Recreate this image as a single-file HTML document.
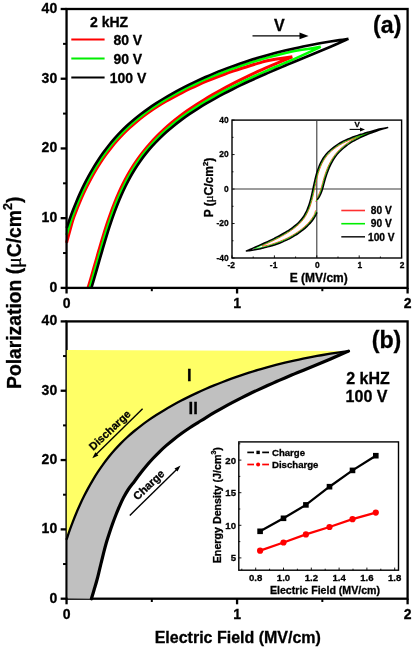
<!DOCTYPE html>
<html><head><meta charset="utf-8"><title>P-E loops</title>
<style>html,body{margin:0;padding:0;background:#fff;}svg{display:block;will-change:transform;}text{font-family:"Liberation Sans",sans-serif;}</style>
</head><body>
<svg width="414" height="648" viewBox="0 0 414 648">
<rect width="414" height="648" fill="#fff"/>
<path d="M66.55,242.80 C67.58,239.06 71.19,225.52 72.74,220.34 C74.30,215.16 74.80,214.58 75.89,211.72 C76.98,208.86 78.11,206.00 79.29,203.17 C80.47,200.33 81.70,197.51 82.97,194.72 C84.24,191.92 85.55,189.14 86.92,186.40 C88.28,183.65 89.69,180.93 91.15,178.24 C92.61,175.55 94.11,172.89 95.67,170.26 C97.23,167.64 98.83,165.05 100.49,162.51 C102.15,159.96 103.86,157.46 105.62,155.00 C107.39,152.54 109.20,150.12 111.07,147.76 C112.94,145.40 114.86,143.08 116.83,140.83 C118.81,138.57 120.84,136.37 122.93,134.22 C125.02,132.08 127.17,129.99 129.37,127.96 C131.57,125.92 133.83,123.94 136.14,122.01 C138.44,120.08 140.80,118.21 143.20,116.37 C145.60,114.54 148.03,112.74 150.52,111.02 C153.02,109.30 155.57,107.65 158.15,106.03 C160.73,104.41 163.35,102.85 165.99,101.31 C168.63,99.78 171.31,98.29 174.00,96.83 C176.69,95.38 179.41,93.96 182.15,92.57 C184.88,91.18 187.64,89.83 190.41,88.51 C193.18,87.19 195.97,85.90 198.77,84.65 C201.57,83.40 204.39,82.18 207.22,80.99 C210.06,79.80 212.91,78.65 215.77,77.52 C218.63,76.40 221.50,75.30 224.39,74.24 C227.27,73.18 230.17,72.15 233.08,71.14 C235.99,70.14 238.91,69.17 241.84,68.23 C244.77,67.29 247.71,66.38 250.66,65.49 C253.60,64.60 256.55,63.73 259.51,62.90 C262.47,62.06 262.93,61.48 268.42,60.46 C273.90,59.44 288.40,57.41 292.40,56.80 M88.00,288.00 C88.50,286.30 90.06,281.05 91.01,277.80 C91.96,274.54 92.82,271.58 93.71,268.46 C94.61,265.33 95.50,262.19 96.40,259.05 C97.30,255.91 98.19,252.75 99.11,249.60 C100.03,246.45 100.95,243.29 101.89,240.14 C102.84,236.98 103.80,233.83 104.79,230.69 C105.79,227.55 106.80,224.41 107.85,221.29 C108.91,218.17 109.99,215.05 111.12,211.96 C112.25,208.87 113.41,205.79 114.63,202.74 C115.85,199.69 117.11,196.66 118.44,193.66 C119.77,190.66 121.14,187.68 122.59,184.74 C124.04,181.80 125.54,178.89 127.13,176.02 C128.71,173.15 130.36,170.31 132.10,167.53 C133.83,164.74 135.64,161.99 137.55,159.29 C139.45,156.59 141.44,153.95 143.51,151.35 C145.58,148.76 147.74,146.21 149.95,143.72 C152.17,141.22 154.44,138.76 156.79,136.37 C159.13,133.98 161.55,131.65 164.02,129.38 C166.49,127.11 169.02,124.89 171.59,122.74 C174.16,120.59 176.79,118.51 179.44,116.48 C182.10,114.46 184.80,112.49 187.52,110.58 C190.25,108.66 193.01,106.81 195.79,105.00 C198.57,103.18 201.38,101.42 204.20,99.70 C207.03,97.97 209.87,96.29 212.72,94.64 C215.58,93.00 218.45,91.39 221.33,89.81 C224.21,88.23 227.11,86.68 230.01,85.16 C232.92,83.64 235.84,82.15 238.77,80.69 C241.70,79.22 244.63,77.78 247.58,76.36 C250.53,74.95 253.49,73.56 256.45,72.19 C259.42,70.82 259.38,70.70 265.37,68.14 C271.36,65.57 287.90,58.69 292.40,56.80" fill="none" stroke="#ff0000" stroke-width="3.0" stroke-linejoin="round"/>
<path d="M66.55,235.00 C67.33,232.47 69.92,223.79 71.23,219.81 C72.54,215.84 73.30,214.02 74.39,211.15 C75.49,208.27 76.63,205.40 77.82,202.55 C79.00,199.70 80.23,196.87 81.51,194.06 C82.79,191.24 84.11,188.45 85.48,185.69 C86.85,182.92 88.27,180.18 89.74,177.47 C91.21,174.77 92.73,172.09 94.30,169.45 C95.86,166.81 97.48,164.20 99.15,161.63 C100.82,159.07 102.55,156.54 104.32,154.07 C106.10,151.59 107.93,149.15 109.81,146.77 C111.70,144.39 113.64,142.05 115.63,139.77 C117.63,137.50 119.68,135.27 121.79,133.10 C123.90,130.94 126.07,128.83 128.29,126.78 C130.51,124.73 132.79,122.73 135.11,120.79 C137.43,118.84 139.81,116.95 142.23,115.10 C144.64,113.26 147.10,111.46 149.61,109.71 C152.11,107.96 154.66,106.28 157.24,104.62 C159.82,102.97 162.44,101.37 165.08,99.80 C167.72,98.23 170.40,96.70 173.09,95.21 C175.78,93.72 178.50,92.26 181.23,90.84 C183.97,89.42 186.72,88.03 189.49,86.67 C192.26,85.31 195.05,83.99 197.86,82.70 C200.66,81.41 203.48,80.15 206.32,78.93 C209.15,77.70 212.00,76.51 214.87,75.35 C217.73,74.18 220.61,73.05 223.50,71.95 C226.39,70.85 229.29,69.78 232.20,68.74 C235.12,67.70 238.04,66.69 240.98,65.71 C243.91,64.73 246.86,63.78 249.81,62.85 C252.77,61.93 255.73,61.03 258.70,60.16 C261.66,59.28 264.64,58.44 267.62,57.62 C270.60,56.80 273.59,56.01 276.59,55.24 C279.58,54.48 282.58,53.74 285.59,53.03 C288.59,52.32 288.74,51.99 294.61,50.97 C300.48,49.95 316.43,47.58 320.80,46.90 M89.70,288.00 C90.17,286.37 91.62,281.43 92.55,278.25 C93.47,275.06 94.35,272.03 95.25,268.90 C96.15,265.77 97.04,262.63 97.94,259.49 C98.84,256.35 99.73,253.19 100.65,250.05 C101.56,246.90 102.48,243.74 103.43,240.60 C104.37,237.45 105.33,234.30 106.32,231.17 C107.31,228.04 108.32,224.91 109.37,221.80 C110.42,218.69 111.49,215.59 112.62,212.51 C113.74,209.44 114.90,206.37 116.12,203.34 C117.33,200.30 118.58,197.29 119.90,194.31 C121.22,191.33 122.59,188.37 124.03,185.45 C125.46,182.53 126.96,179.64 128.53,176.79 C130.10,173.95 131.73,171.13 133.46,168.37 C135.18,165.61 136.97,162.88 138.85,160.21 C140.74,157.54 142.71,154.92 144.76,152.35 C146.81,149.79 148.96,147.27 151.16,144.81 C153.37,142.35 155.65,139.93 157.99,137.58 C160.34,135.24 162.75,132.94 165.22,130.71 C167.68,128.48 170.21,126.31 172.78,124.20 C175.34,122.10 177.97,120.06 180.62,118.07 C183.27,116.08 185.97,114.16 188.69,112.29 C191.41,110.42 194.17,108.60 196.95,106.83 C199.72,105.05 202.53,103.33 205.35,101.65 C208.18,99.96 211.02,98.32 213.87,96.71 C216.73,95.10 219.60,93.53 222.48,91.99 C225.36,90.44 228.26,88.94 231.17,87.46 C234.07,85.97 236.99,84.52 239.92,83.09 C242.85,81.67 245.79,80.26 248.74,78.88 C251.69,77.50 254.65,76.15 257.62,74.81 C260.59,73.47 263.57,72.16 266.55,70.85 C269.53,69.54 272.52,68.26 275.51,66.97 C278.50,65.69 281.49,64.42 284.49,63.16 C287.49,61.89 287.44,62.09 293.49,59.38 C299.54,56.67 316.25,48.98 320.80,46.90" fill="none" stroke="#00ff00" stroke-width="2.6" stroke-linejoin="round"/>
<path d="M66.70,228.00 C67.19,226.54 68.61,222.16 69.63,219.25 C70.64,216.34 71.70,213.43 72.81,210.54 C73.91,207.65 75.06,204.76 76.25,201.90 C77.44,199.03 78.68,196.18 79.96,193.35 C81.25,190.52 82.58,187.71 83.96,184.93 C85.34,182.15 86.77,179.39 88.25,176.66 C89.73,173.94 91.25,171.24 92.83,168.58 C94.41,165.92 96.04,163.29 97.73,160.71 C99.41,158.12 101.15,155.57 102.94,153.07 C104.73,150.58 106.58,148.12 108.48,145.71 C110.38,143.31 112.34,140.95 114.35,138.65 C116.37,136.35 118.44,134.11 120.57,131.92 C122.70,129.73 124.89,127.61 127.13,125.53 C129.38,123.46 131.68,121.45 134.02,119.48 C136.36,117.52 138.76,115.61 141.19,113.75 C143.63,111.89 146.11,110.08 148.63,108.32 C151.15,106.55 153.70,104.84 156.29,103.16 C158.88,101.48 161.50,99.85 164.15,98.26 C166.80,96.67 169.48,95.12 172.18,93.60 C174.88,92.08 177.60,90.60 180.34,89.15 C183.08,87.70 185.84,86.29 188.62,84.91 C191.39,83.53 194.19,82.18 197.00,80.87 C199.81,79.55 202.64,78.27 205.48,77.02 C208.32,75.77 211.18,74.56 214.05,73.37 C216.92,72.18 219.81,71.03 222.70,69.90 C225.60,68.78 228.51,67.68 231.43,66.62 C234.35,65.55 237.29,64.52 240.23,63.51 C243.17,62.51 246.13,61.53 249.09,60.59 C252.05,59.64 255.02,58.72 258.00,57.83 C260.98,56.94 263.97,56.08 266.96,55.25 C269.95,54.41 272.95,53.60 275.96,52.82 C278.97,52.04 281.98,51.29 284.99,50.56 C288.01,49.83 291.03,49.13 294.05,48.46 C297.07,47.78 300.09,47.13 303.12,46.50 C306.15,45.88 309.18,45.28 312.21,44.70 C315.23,44.12 318.26,43.57 321.29,43.04 C324.32,42.51 327.35,42.01 330.37,41.52 C333.40,41.04 336.43,40.58 339.45,40.14 C342.47,39.70 346.99,39.10 348.50,38.90 M91.40,288.00 C91.87,286.45 93.26,281.83 94.18,278.73 C95.09,275.62 95.99,272.50 96.88,269.37 C97.78,266.24 98.67,263.10 99.57,259.96 C100.47,256.82 101.37,253.67 102.28,250.52 C103.19,247.37 104.11,244.22 105.05,241.09 C106.00,237.95 106.95,234.81 107.94,231.68 C108.93,228.56 109.93,225.44 110.98,222.34 C112.02,219.25 113.10,216.16 114.22,213.10 C115.33,210.03 116.49,206.99 117.69,203.97 C118.90,200.95 120.15,197.96 121.46,194.99 C122.77,192.03 124.12,189.10 125.55,186.20 C126.98,183.30 128.46,180.44 130.02,177.61 C131.57,174.79 133.19,172.01 134.90,169.27 C136.60,166.53 138.38,163.84 140.24,161.19 C142.11,158.55 144.05,155.95 146.09,153.42 C148.12,150.88 150.25,148.39 152.44,145.96 C154.63,143.53 156.90,141.15 159.24,138.84 C161.57,136.52 163.97,134.26 166.43,132.06 C168.88,129.86 171.40,127.73 173.95,125.65 C176.51,123.58 179.12,121.57 181.76,119.61 C184.40,117.66 187.08,115.77 189.80,113.92 C192.51,112.08 195.26,110.29 198.03,108.54 C200.80,106.80 203.60,105.10 206.41,103.44 C209.23,101.78 212.07,100.17 214.92,98.58 C217.76,97.00 220.63,95.45 223.51,93.94 C226.39,92.42 229.28,90.94 232.18,89.48 C235.09,88.02 238.00,86.60 240.93,85.19 C243.86,83.78 246.80,82.41 249.74,81.05 C252.69,79.69 255.65,78.35 258.61,77.03 C261.58,75.71 264.55,74.40 267.53,73.11 C270.51,71.82 273.49,70.55 276.48,69.28 C279.47,68.01 282.47,66.75 285.47,65.50 C288.47,64.25 291.47,63.01 294.48,61.76 C297.48,60.52 300.49,59.28 303.50,58.04 C306.51,56.80 309.52,55.56 312.52,54.31 C315.53,53.06 318.54,51.81 321.55,50.55 C324.55,49.29 327.55,48.03 330.55,46.75 C333.55,45.47 336.55,44.18 339.54,42.87 C342.53,41.56 347.01,39.56 348.50,38.90" fill="none" stroke="#000" stroke-width="2.6" stroke-linejoin="miter"/>
<rect x="66.55" y="9.00" width="341.05" height="278.90" fill="none" stroke="#000" stroke-width="2.3"/>
<line x1="60.65" y1="287.90" x2="66.55" y2="287.90" stroke="#000" stroke-width="2.3"/>
<line x1="63.05" y1="253.04" x2="66.55" y2="253.04" stroke="#000" stroke-width="2.0"/>
<line x1="60.65" y1="218.17" x2="66.55" y2="218.17" stroke="#000" stroke-width="2.3"/>
<line x1="63.05" y1="183.31" x2="66.55" y2="183.31" stroke="#000" stroke-width="2.0"/>
<line x1="60.65" y1="148.45" x2="66.55" y2="148.45" stroke="#000" stroke-width="2.3"/>
<line x1="63.05" y1="113.59" x2="66.55" y2="113.59" stroke="#000" stroke-width="2.0"/>
<line x1="60.65" y1="78.72" x2="66.55" y2="78.72" stroke="#000" stroke-width="2.3"/>
<line x1="63.05" y1="43.86" x2="66.55" y2="43.86" stroke="#000" stroke-width="2.0"/>
<line x1="60.65" y1="9.00" x2="66.55" y2="9.00" stroke="#000" stroke-width="2.3"/>
<line x1="66.55" y1="287.90" x2="66.55" y2="293.50" stroke="#000" stroke-width="2.3"/>
<line x1="151.81" y1="287.90" x2="151.81" y2="291.20" stroke="#000" stroke-width="2.0"/>
<line x1="237.07" y1="287.90" x2="237.07" y2="293.50" stroke="#000" stroke-width="2.3"/>
<line x1="322.34" y1="287.90" x2="322.34" y2="291.20" stroke="#000" stroke-width="2.0"/>
<line x1="407.60" y1="287.90" x2="407.60" y2="293.50" stroke="#000" stroke-width="2.3"/>
<text x="57.2" y="291.70" font-size="14" text-anchor="end" font-family="Liberation Sans, sans-serif" font-weight="bold" stroke="#000" stroke-width="0.3">0</text>
<text x="57.2" y="221.97" font-size="14" text-anchor="end" font-family="Liberation Sans, sans-serif" font-weight="bold" stroke="#000" stroke-width="0.3">10</text>
<text x="57.2" y="152.25" font-size="14" text-anchor="end" font-family="Liberation Sans, sans-serif" font-weight="bold" stroke="#000" stroke-width="0.3">20</text>
<text x="57.2" y="82.52" font-size="14" text-anchor="end" font-family="Liberation Sans, sans-serif" font-weight="bold" stroke="#000" stroke-width="0.3">30</text>
<text x="57.2" y="12.80" font-size="14" text-anchor="end" font-family="Liberation Sans, sans-serif" font-weight="bold" stroke="#000" stroke-width="0.3">40</text>
<text x="66.55" y="308.20" font-size="14" text-anchor="middle" font-family="Liberation Sans, sans-serif" font-weight="bold" stroke="#000" stroke-width="0.3">0</text>
<text x="237.07" y="308.20" font-size="14" text-anchor="middle" font-family="Liberation Sans, sans-serif" font-weight="bold" stroke="#000" stroke-width="0.3">1</text>
<text x="407.60" y="308.20" font-size="14" text-anchor="middle" font-family="Liberation Sans, sans-serif" font-weight="bold" stroke="#000" stroke-width="0.3">2</text>
<rect x="66.55" y="321.40" width="341.05" height="277.30" fill="none" stroke="#000" stroke-width="2.3"/>
<line x1="60.65" y1="598.70" x2="66.55" y2="598.70" stroke="#000" stroke-width="2.3"/>
<line x1="63.05" y1="564.04" x2="66.55" y2="564.04" stroke="#000" stroke-width="2.0"/>
<line x1="60.65" y1="529.38" x2="66.55" y2="529.38" stroke="#000" stroke-width="2.3"/>
<line x1="63.05" y1="494.71" x2="66.55" y2="494.71" stroke="#000" stroke-width="2.0"/>
<line x1="60.65" y1="460.05" x2="66.55" y2="460.05" stroke="#000" stroke-width="2.3"/>
<line x1="63.05" y1="425.39" x2="66.55" y2="425.39" stroke="#000" stroke-width="2.0"/>
<line x1="60.65" y1="390.73" x2="66.55" y2="390.73" stroke="#000" stroke-width="2.3"/>
<line x1="63.05" y1="356.06" x2="66.55" y2="356.06" stroke="#000" stroke-width="2.0"/>
<line x1="60.65" y1="321.40" x2="66.55" y2="321.40" stroke="#000" stroke-width="2.3"/>
<line x1="66.55" y1="598.70" x2="66.55" y2="604.30" stroke="#000" stroke-width="2.3"/>
<line x1="151.81" y1="598.70" x2="151.81" y2="602.00" stroke="#000" stroke-width="2.0"/>
<line x1="237.07" y1="598.70" x2="237.07" y2="604.30" stroke="#000" stroke-width="2.3"/>
<line x1="322.34" y1="598.70" x2="322.34" y2="602.00" stroke="#000" stroke-width="2.0"/>
<line x1="407.60" y1="598.70" x2="407.60" y2="604.30" stroke="#000" stroke-width="2.3"/>
<text x="57.2" y="602.50" font-size="14" text-anchor="end" font-family="Liberation Sans, sans-serif" font-weight="bold" stroke="#000" stroke-width="0.3">0</text>
<text x="57.2" y="533.17" font-size="14" text-anchor="end" font-family="Liberation Sans, sans-serif" font-weight="bold" stroke="#000" stroke-width="0.3">10</text>
<text x="57.2" y="463.85" font-size="14" text-anchor="end" font-family="Liberation Sans, sans-serif" font-weight="bold" stroke="#000" stroke-width="0.3">20</text>
<text x="57.2" y="394.53" font-size="14" text-anchor="end" font-family="Liberation Sans, sans-serif" font-weight="bold" stroke="#000" stroke-width="0.3">30</text>
<text x="57.2" y="325.20" font-size="14" text-anchor="end" font-family="Liberation Sans, sans-serif" font-weight="bold" stroke="#000" stroke-width="0.3">40</text>
<text x="66.55" y="619.00" font-size="14" text-anchor="middle" font-family="Liberation Sans, sans-serif" font-weight="bold" stroke="#000" stroke-width="0.3">0</text>
<text x="237.07" y="619.00" font-size="14" text-anchor="middle" font-family="Liberation Sans, sans-serif" font-weight="bold" stroke="#000" stroke-width="0.3">1</text>
<text x="407.60" y="619.00" font-size="14" text-anchor="middle" font-family="Liberation Sans, sans-serif" font-weight="bold" stroke="#000" stroke-width="0.3">2</text>
<path d="M66.70,539.14 C67.19,537.70 68.61,533.34 69.63,530.45 C70.64,527.55 71.70,524.66 72.81,521.79 C73.91,518.91 75.06,516.04 76.25,513.19 C77.44,510.34 78.68,507.51 79.96,504.69 C81.25,501.88 82.58,499.09 83.96,496.32 C85.34,493.56 86.77,490.81 88.25,488.10 C89.73,485.39 91.25,482.71 92.83,480.06 C94.41,477.42 96.04,474.80 97.73,472.24 C99.41,469.67 101.15,467.13 102.94,464.65 C104.73,462.16 106.58,459.72 108.48,457.33 C110.38,454.94 112.34,452.59 114.35,450.31 C116.37,448.02 118.44,445.79 120.57,443.61 C122.70,441.44 124.89,439.33 127.13,437.26 C129.38,435.20 131.68,433.20 134.02,431.25 C136.36,429.30 138.76,427.40 141.19,425.55 C143.63,423.70 146.11,421.90 148.63,420.15 C151.15,418.39 153.70,416.69 156.29,415.02 C158.88,413.35 161.50,411.73 164.15,410.15 C166.80,408.56 169.48,407.02 172.18,405.51 C174.88,404.00 177.60,402.53 180.34,401.09 C183.08,399.65 185.84,398.25 188.62,396.88 C191.39,395.50 194.19,394.16 197.00,392.86 C199.81,391.55 202.64,390.28 205.48,389.03 C208.32,387.79 211.18,386.58 214.05,385.40 C216.92,384.22 219.81,383.07 222.70,381.95 C225.60,380.83 228.51,379.75 231.43,378.69 C234.35,377.63 237.29,376.60 240.23,375.60 C243.17,374.60 246.13,373.63 249.09,372.69 C252.05,371.75 255.02,370.84 258.00,369.95 C260.98,369.07 263.97,368.21 266.96,367.38 C269.95,366.55 272.95,365.75 275.96,364.97 C278.97,364.20 281.98,363.45 284.99,362.72 C288.01,362.00 291.03,361.30 294.05,360.63 C297.07,359.96 300.09,359.31 303.12,358.69 C306.15,358.07 309.18,357.47 312.21,356.89 C315.23,356.32 318.26,355.77 321.29,355.25 C324.32,354.72 327.35,354.22 330.37,353.74 C333.40,353.26 336.43,352.80 339.45,352.36 C342.47,351.93 346.99,351.33 348.50,351.12 L348.50,351.12 C347.00,351.78 342.53,353.77 339.54,355.07 C336.55,356.38 333.55,357.66 330.55,358.93 C327.55,360.20 324.55,361.46 321.55,362.72 C318.54,363.97 315.53,365.21 312.52,366.45 C309.52,367.69 306.51,368.92 303.50,370.16 C300.49,371.39 297.48,372.61 294.48,373.86 C291.47,375.11 288.47,376.37 285.47,377.66 C282.47,378.94 279.47,380.25 276.48,381.57 C273.49,382.88 270.51,384.20 267.53,385.54 C264.55,386.87 261.58,388.22 258.61,389.58 C255.65,390.95 252.69,392.32 249.74,393.74 C246.80,395.16 243.86,396.62 240.93,398.10 C238.00,399.58 235.09,401.08 232.18,402.61 C229.28,404.14 226.39,405.69 223.51,407.29 C220.63,408.88 217.76,410.52 214.92,412.18 C212.07,413.85 209.23,415.56 206.41,417.29 C203.60,419.01 200.80,420.79 198.03,422.53 C195.26,424.27 192.51,425.95 189.80,427.74 C187.08,429.53 184.40,431.37 181.76,433.27 C179.12,435.18 176.51,437.13 173.95,439.15 C171.40,441.18 168.88,443.26 166.43,445.41 C163.97,447.56 161.57,449.76 159.24,452.03 C156.90,454.30 154.63,456.64 152.44,459.00 C150.25,461.36 148.15,463.75 146.09,466.20 C144.03,468.64 142.03,471.12 140.07,473.66 C138.12,476.20 136.34,478.80 134.37,481.44 C132.40,484.08 130.08,486.78 128.26,489.51 C126.43,492.25 124.89,495.03 123.42,497.84 C121.94,500.65 120.70,503.49 119.42,506.40 C118.14,509.30 116.93,512.26 115.76,515.25 C114.58,518.24 113.47,521.28 112.38,524.33 C111.30,527.37 110.26,530.44 109.25,533.52 C108.24,536.60 107.22,539.70 106.31,542.81 C105.41,545.91 104.61,549.03 103.80,552.15 C103.00,555.28 102.24,558.41 101.48,561.53 C100.72,564.66 99.99,567.80 99.23,570.92 C98.46,574.04 97.73,577.17 96.88,580.28 C96.04,583.39 95.09,586.49 94.18,589.58 C93.26,592.67 91.87,597.26 91.40,598.80 L67.80,598.60 L67.80,539.14 Z" fill="#c0c0c0"/>
<path d="M66.80,350.02 L66.80,539.14  C67.19,537.70 68.61,533.34 69.63,530.45 C70.64,527.55 71.70,524.66 72.81,521.79 C73.91,518.91 75.06,516.04 76.25,513.19 C77.44,510.34 78.68,507.51 79.96,504.69 C81.25,501.88 82.58,499.09 83.96,496.32 C85.34,493.56 86.77,490.81 88.25,488.10 C89.73,485.39 91.25,482.71 92.83,480.06 C94.41,477.42 96.04,474.80 97.73,472.24 C99.41,469.67 101.15,467.13 102.94,464.65 C104.73,462.16 106.58,459.72 108.48,457.33 C110.38,454.94 112.34,452.59 114.35,450.31 C116.37,448.02 118.44,445.79 120.57,443.61 C122.70,441.44 124.89,439.33 127.13,437.26 C129.38,435.20 131.68,433.20 134.02,431.25 C136.36,429.30 138.76,427.40 141.19,425.55 C143.63,423.70 146.11,421.90 148.63,420.15 C151.15,418.39 153.70,416.69 156.29,415.02 C158.88,413.35 161.50,411.73 164.15,410.15 C166.80,408.56 169.48,407.02 172.18,405.51 C174.88,404.00 177.60,402.53 180.34,401.09 C183.08,399.65 185.84,398.25 188.62,396.88 C191.39,395.50 194.19,394.16 197.00,392.86 C199.81,391.55 202.64,390.28 205.48,389.03 C208.32,387.79 211.18,386.58 214.05,385.40 C216.92,384.22 219.81,383.07 222.70,381.95 C225.60,380.83 228.51,379.75 231.43,378.69 C234.35,377.63 237.29,376.60 240.23,375.60 C243.17,374.60 246.13,373.63 249.09,372.69 C252.05,371.75 255.02,370.84 258.00,369.95 C260.98,369.07 263.97,368.21 266.96,367.38 C269.95,366.55 272.95,365.75 275.96,364.97 C278.97,364.20 281.98,363.45 284.99,362.72 C288.01,362.00 291.03,361.30 294.05,360.63 C297.07,359.96 300.09,359.31 303.12,358.69 C306.15,358.07 309.18,357.47 312.21,356.89 C315.23,356.32 318.26,355.77 321.29,355.25 C324.32,354.72 327.35,354.22 330.37,353.74 C333.40,353.26 336.43,352.80 339.45,352.36 C342.47,351.93 346.99,351.33 348.50,351.12 L66.80,350.02 Z" fill="#ffff66"/>
<path d="M66.70,539.14 C67.19,537.70 68.61,533.34 69.63,530.45 C70.64,527.55 71.70,524.66 72.81,521.79 C73.91,518.91 75.06,516.04 76.25,513.19 C77.44,510.34 78.68,507.51 79.96,504.69 C81.25,501.88 82.58,499.09 83.96,496.32 C85.34,493.56 86.77,490.81 88.25,488.10 C89.73,485.39 91.25,482.71 92.83,480.06 C94.41,477.42 96.04,474.80 97.73,472.24 C99.41,469.67 101.15,467.13 102.94,464.65 C104.73,462.16 106.58,459.72 108.48,457.33 C110.38,454.94 112.34,452.59 114.35,450.31 C116.37,448.02 118.44,445.79 120.57,443.61 C122.70,441.44 124.89,439.33 127.13,437.26 C129.38,435.20 131.68,433.20 134.02,431.25 C136.36,429.30 138.76,427.40 141.19,425.55 C143.63,423.70 146.11,421.90 148.63,420.15 C151.15,418.39 153.70,416.69 156.29,415.02 C158.88,413.35 161.50,411.73 164.15,410.15 C166.80,408.56 169.48,407.02 172.18,405.51 C174.88,404.00 177.60,402.53 180.34,401.09 C183.08,399.65 185.84,398.25 188.62,396.88 C191.39,395.50 194.19,394.16 197.00,392.86 C199.81,391.55 202.64,390.28 205.48,389.03 C208.32,387.79 211.18,386.58 214.05,385.40 C216.92,384.22 219.81,383.07 222.70,381.95 C225.60,380.83 228.51,379.75 231.43,378.69 C234.35,377.63 237.29,376.60 240.23,375.60 C243.17,374.60 246.13,373.63 249.09,372.69 C252.05,371.75 255.02,370.84 258.00,369.95 C260.98,369.07 263.97,368.21 266.96,367.38 C269.95,366.55 272.95,365.75 275.96,364.97 C278.97,364.20 281.98,363.45 284.99,362.72 C288.01,362.00 291.03,361.30 294.05,360.63 C297.07,359.96 300.09,359.31 303.12,358.69 C306.15,358.07 309.18,357.47 312.21,356.89 C315.23,356.32 318.26,355.77 321.29,355.25 C324.32,354.72 327.35,354.22 330.37,353.74 C333.40,353.26 336.43,352.80 339.45,352.36 C342.47,351.93 346.99,351.33 348.50,351.12" fill="none" stroke="#000" stroke-width="2.3" stroke-linejoin="round" stroke-linecap="round"/>
<path d="M91.40,598.80 C91.87,597.26 93.26,592.67 94.18,589.58 C95.09,586.49 96.04,583.39 96.88,580.28 C97.73,577.17 98.46,574.04 99.23,570.92 C99.99,567.80 100.72,564.66 101.48,561.53 C102.24,558.41 103.00,555.28 103.80,552.15 C104.61,549.03 105.41,545.91 106.31,542.81 C107.22,539.70 108.24,536.60 109.25,533.52 C110.26,530.44 111.30,527.37 112.38,524.33 C113.47,521.28 114.58,518.24 115.76,515.25 C116.93,512.26 118.14,509.30 119.42,506.40 C120.70,503.49 121.94,500.65 123.42,497.84 C124.89,495.03 126.43,492.25 128.26,489.51 C130.08,486.78 132.40,484.08 134.37,481.44 C136.34,478.80 138.12,476.20 140.07,473.66 C142.03,471.12 144.03,468.64 146.09,466.20 C148.15,463.75 150.25,461.36 152.44,459.00 C154.63,456.64 156.90,454.30 159.24,452.03 C161.57,449.76 163.97,447.56 166.43,445.41 C168.88,443.26 171.40,441.18 173.95,439.15 C176.51,437.13 179.12,435.18 181.76,433.27 C184.40,431.37 187.08,429.53 189.80,427.74 C192.51,425.95 195.26,424.27 198.03,422.53 C200.80,420.79 203.60,419.01 206.41,417.29 C209.23,415.56 212.07,413.85 214.92,412.18 C217.76,410.52 220.63,408.88 223.51,407.29 C226.39,405.69 229.28,404.14 232.18,402.61 C235.09,401.08 238.00,399.58 240.93,398.10 C243.86,396.62 246.80,395.16 249.74,393.74 C252.69,392.32 255.65,390.95 258.61,389.58 C261.58,388.22 264.55,386.87 267.53,385.54 C270.51,384.20 273.49,382.88 276.48,381.57 C279.47,380.25 282.47,378.94 285.47,377.66 C288.47,376.37 291.47,375.11 294.48,373.86 C297.48,372.61 300.49,371.39 303.50,370.16 C306.51,368.92 309.52,367.69 312.52,366.45 C315.53,365.21 318.54,363.97 321.55,362.72 C324.55,361.46 327.55,360.20 330.55,358.93 C333.55,357.66 336.55,356.38 339.54,355.07 C342.53,353.77 347.00,351.78 348.50,351.12" fill="none" stroke="#000" stroke-width="3.2" stroke-linejoin="round" stroke-linecap="round"/>
<text transform="translate(21.2,292.8) rotate(-90)" font-size="19.3" text-anchor="middle" font-family="Liberation Sans, sans-serif" font-weight="bold" stroke="#000" stroke-width="0.3">Polarization (<tspan font-family="Liberation Serif, serif" font-weight="normal" font-size="20">μ</tspan>C/cm<tspan font-size="12.5" dy="-9.5">2</tspan><tspan dy="9.5">)</tspan></text>
<text x="237.8" y="643.2" font-size="16" text-anchor="middle" font-family="Liberation Sans, sans-serif" font-weight="bold" stroke="#000" stroke-width="0.3">Electric Field (MV/cm)</text>
<text x="373.1" y="33.3" font-size="23.2" font-family="Liberation Sans, sans-serif" font-weight="bold" stroke="#000" stroke-width="0.3">(a)</text>
<text x="274" y="30.6" font-size="16" font-family="Liberation Sans, sans-serif" font-weight="bold" stroke="#000" stroke-width="0.3">V</text>
<line x1="252.5" y1="35.9" x2="302" y2="35.9" stroke="#000" stroke-width="1.3"/>
<path d="M308.6,35.9 L299.5,32.6 L299.5,39.2 Z" fill="#000"/>
<text x="90" y="27.2" font-size="14" font-family="Liberation Sans, sans-serif" font-weight="bold" stroke="#000" stroke-width="0.3">2 kHZ</text>
<line x1="71.3" y1="39.6" x2="104.6" y2="39.6" stroke="#ff0000" stroke-width="2"/>
<text x="113.4" y="44.6" font-size="14" font-family="Liberation Sans, sans-serif" font-weight="bold" stroke="#000" stroke-width="0.3">80 V</text>
<line x1="71.3" y1="58.5" x2="104.6" y2="58.5" stroke="#00ee00" stroke-width="2"/>
<text x="113.4" y="63.5" font-size="14" font-family="Liberation Sans, sans-serif" font-weight="bold" stroke="#000" stroke-width="0.3">90 V</text>
<line x1="71.3" y1="77.6" x2="104.6" y2="77.6" stroke="#000" stroke-width="2"/>
<text x="109.8" y="82.6" font-size="14" font-family="Liberation Sans, sans-serif" font-weight="bold" stroke="#000" stroke-width="0.3">100 V</text>
<rect x="232.00" y="120.10" width="169.60" height="137.90" fill="#fff" stroke="#000" stroke-width="1.4"/>
<line x1="232.00" y1="189.05" x2="401.60" y2="189.05" stroke="#3a3a3a" stroke-width="1.1"/>
<line x1="316.80" y1="120.10" x2="316.80" y2="258.00" stroke="#3a3a3a" stroke-width="1.1"/>
<line x1="232.00" y1="258.00" x2="234.60" y2="258.00" stroke="#000" stroke-width="0.9"/>
<line x1="232.00" y1="240.76" x2="233.50" y2="240.76" stroke="#000" stroke-width="0.9"/>
<line x1="232.00" y1="223.53" x2="234.60" y2="223.53" stroke="#000" stroke-width="0.9"/>
<line x1="232.00" y1="206.29" x2="233.50" y2="206.29" stroke="#000" stroke-width="0.9"/>
<line x1="232.00" y1="189.05" x2="234.60" y2="189.05" stroke="#000" stroke-width="0.9"/>
<line x1="232.00" y1="171.81" x2="233.50" y2="171.81" stroke="#000" stroke-width="0.9"/>
<line x1="232.00" y1="154.57" x2="234.60" y2="154.57" stroke="#000" stroke-width="0.9"/>
<line x1="232.00" y1="137.34" x2="233.50" y2="137.34" stroke="#000" stroke-width="0.9"/>
<line x1="232.00" y1="120.10" x2="234.60" y2="120.10" stroke="#000" stroke-width="0.9"/>
<line x1="232.00" y1="258.00" x2="232.00" y2="255.40" stroke="#000" stroke-width="0.9"/>
<line x1="253.20" y1="258.00" x2="253.20" y2="256.50" stroke="#000" stroke-width="0.9"/>
<line x1="274.40" y1="258.00" x2="274.40" y2="255.40" stroke="#000" stroke-width="0.9"/>
<line x1="295.60" y1="258.00" x2="295.60" y2="256.50" stroke="#000" stroke-width="0.9"/>
<line x1="316.80" y1="258.00" x2="316.80" y2="255.40" stroke="#000" stroke-width="0.9"/>
<line x1="338.00" y1="258.00" x2="338.00" y2="256.50" stroke="#000" stroke-width="0.9"/>
<line x1="359.20" y1="258.00" x2="359.20" y2="255.40" stroke="#000" stroke-width="0.9"/>
<line x1="380.40" y1="258.00" x2="380.40" y2="256.50" stroke="#000" stroke-width="0.9"/>
<line x1="401.60" y1="258.00" x2="401.60" y2="255.40" stroke="#000" stroke-width="0.9"/>
<text x="228.7" y="260.80" font-size="8.4" text-anchor="end" font-family="Liberation Sans, sans-serif" font-weight="bold" stroke="#000" stroke-width="0.3">-40</text>
<text x="228.7" y="226.33" font-size="8.4" text-anchor="end" font-family="Liberation Sans, sans-serif" font-weight="bold" stroke="#000" stroke-width="0.3">-20</text>
<text x="228.7" y="191.85" font-size="8.4" text-anchor="end" font-family="Liberation Sans, sans-serif" font-weight="bold" stroke="#000" stroke-width="0.3">0</text>
<text x="228.7" y="157.38" font-size="8.4" text-anchor="end" font-family="Liberation Sans, sans-serif" font-weight="bold" stroke="#000" stroke-width="0.3">20</text>
<text x="228.7" y="122.90" font-size="8.4" text-anchor="end" font-family="Liberation Sans, sans-serif" font-weight="bold" stroke="#000" stroke-width="0.3">40</text>
<text x="231.20" y="267.8" font-size="8.4" text-anchor="middle" font-family="Liberation Sans, sans-serif" font-weight="bold" stroke="#000" stroke-width="0.3">-2</text>
<text x="273.60" y="267.8" font-size="8.4" text-anchor="middle" font-family="Liberation Sans, sans-serif" font-weight="bold" stroke="#000" stroke-width="0.3">-1</text>
<text x="317.40" y="267.8" font-size="8.4" text-anchor="middle" font-family="Liberation Sans, sans-serif" font-weight="bold" stroke="#000" stroke-width="0.3">0</text>
<text x="359.80" y="267.8" font-size="8.4" text-anchor="middle" font-family="Liberation Sans, sans-serif" font-weight="bold" stroke="#000" stroke-width="0.3">1</text>
<text x="402.20" y="267.8" font-size="8.4" text-anchor="middle" font-family="Liberation Sans, sans-serif" font-weight="bold" stroke="#000" stroke-width="0.3">2</text>
<text x="318.8" y="281.6" font-size="12" text-anchor="middle" font-family="Liberation Sans, sans-serif" font-weight="bold" stroke="#000" stroke-width="0.3">E (MV/cm)</text>
<text transform="translate(213.2,187.5) rotate(-90)" font-size="12" text-anchor="middle" font-family="Liberation Sans, sans-serif" font-weight="bold" stroke="#000" stroke-width="0.3">P (<tspan font-family="Liberation Serif, serif" font-weight="normal" font-size="12.5">μ</tspan>C/cm<tspan font-size="7.8" dy="-5.6">2</tspan><tspan dy="5.6">)</tspan></text>
<path d="M315.86,201.80 C316.21,200.83 317.37,197.47 317.98,195.99 C318.59,194.51 319.07,193.99 319.53,192.93 C319.99,191.87 320.37,190.75 320.74,189.62 C321.10,188.48 321.41,187.31 321.74,186.12 C322.06,184.93 322.35,183.71 322.68,182.50 C323.00,181.29 323.33,180.06 323.68,178.85 C324.04,177.63 324.41,176.42 324.80,175.21 C325.19,174.01 325.60,172.80 326.04,171.62 C326.47,170.43 326.93,169.25 327.42,168.08 C327.91,166.92 328.42,165.77 328.97,164.63 C329.51,163.50 330.09,162.38 330.70,161.29 C331.31,160.19 331.95,159.11 332.63,158.06 C333.31,157.01 334.03,155.98 334.79,154.98 C335.55,153.98 336.35,153.01 337.19,152.07 C338.02,151.13 338.90,150.22 339.81,149.34 C340.72,148.46 341.67,147.61 342.64,146.79 C343.61,145.97 344.62,145.18 345.64,144.42 C346.67,143.65 347.73,142.92 348.80,142.21 C349.88,141.49 350.98,140.81 352.09,140.15 C353.21,139.48 354.34,138.85 355.49,138.23 C356.63,137.62 357.80,137.02 358.97,136.45 C360.14,135.88 361.33,135.33 362.51,134.80 C363.70,134.27 364.18,133.87 366.10,133.27 C368.01,132.67 373.68,131.11 374.00,131.20 C374.32,131.29 369.58,133.21 368.04,133.81 C366.50,134.40 365.85,134.46 364.76,134.79 C363.67,135.13 362.57,135.46 361.48,135.81 C360.40,136.15 359.31,136.50 358.23,136.86 C357.15,137.22 356.07,137.59 355.00,137.97 C353.94,138.35 352.87,138.75 351.82,139.16 C350.77,139.57 349.72,139.99 348.69,140.44 C347.65,140.88 346.62,141.35 345.61,141.83 C344.60,142.32 343.59,142.82 342.60,143.35 C341.61,143.88 340.64,144.44 339.68,145.02 C338.72,145.60 337.78,146.20 336.86,146.83 C335.94,147.45 335.03,148.11 334.16,148.79 C333.29,149.46 332.44,150.17 331.62,150.89 C330.80,151.62 330.01,152.38 329.25,153.16 C328.49,153.94 327.77,154.74 327.08,155.57 C326.39,156.40 325.74,157.26 325.13,158.15 C324.51,159.03 323.94,159.95 323.40,160.89 C322.85,161.83 322.35,162.80 321.87,163.79 C321.39,164.78 320.95,165.80 320.52,166.83 C320.10,167.86 319.71,168.92 319.34,169.99 C318.96,171.06 318.62,172.15 318.28,173.25 C317.95,174.35 317.64,175.47 317.35,176.59 C317.05,177.71 316.77,178.84 316.50,179.98 C316.23,181.11 315.97,182.26 315.72,183.41 C315.46,184.55 315.22,185.70 314.98,186.85 C314.73,188.01 314.49,189.16 314.24,190.31 C314.00,191.46 313.75,192.61 313.50,193.76 C313.24,194.90 312.98,196.04 312.71,197.18 C312.43,198.31 312.15,199.44 311.85,200.56 C311.54,201.68 311.22,202.79 310.88,203.89 C310.54,204.99 310.18,206.08 309.79,207.15 C309.40,208.23 308.98,209.29 308.54,210.33 C308.09,211.37 307.61,212.40 307.09,213.40 C306.57,214.41 306.02,215.40 305.43,216.36 C304.83,217.32 304.20,218.26 303.52,219.18 C302.83,220.09 302.10,220.97 301.33,221.83 C300.57,222.68 299.75,223.51 298.91,224.31 C298.07,225.11 297.18,225.87 296.28,226.62 C295.38,227.37 294.44,228.09 293.49,228.79 C292.54,229.50 291.56,230.17 290.58,230.84 C289.59,231.50 288.58,232.14 287.57,232.77 C286.56,233.40 285.54,234.01 284.52,234.61 C283.49,235.21 282.46,235.79 281.42,236.37 C280.38,236.94 279.34,237.50 278.29,238.05 C277.24,238.61 276.19,239.14 275.13,239.67 C274.08,240.20 273.02,240.72 271.96,241.23 C270.90,241.75 270.44,241.95 268.78,242.74 C267.12,243.54 262.03,245.60 262.00,246.00 C261.97,246.40 267.06,245.42 268.62,245.14 C270.19,244.86 270.47,244.61 271.38,244.33 C272.30,244.05 273.21,243.75 274.11,243.45 C275.02,243.15 275.93,242.83 276.82,242.51 C277.72,242.18 278.62,241.84 279.50,241.49 C280.39,241.14 281.27,240.78 282.15,240.41 C283.03,240.04 283.90,239.65 284.76,239.25 C285.63,238.86 286.48,238.45 287.33,238.02 C288.18,237.60 289.03,237.16 289.86,236.72 C290.70,236.27 291.53,235.81 292.34,235.33 C293.16,234.86 293.98,234.37 294.78,233.87 C295.58,233.36 296.37,232.85 297.16,232.32 C297.94,231.79 298.71,231.25 299.48,230.69 C300.24,230.13 300.99,229.56 301.73,228.98 C302.47,228.39 303.20,227.79 303.91,227.18 C304.62,226.56 305.31,225.93 305.99,225.29 C306.66,224.64 307.32,223.98 307.95,223.30 C308.58,222.62 309.20,221.93 309.79,221.22 C310.38,220.51 310.94,219.78 311.48,219.03 C312.02,218.28 312.54,217.52 313.02,216.74 C313.51,215.95 313.96,215.38 314.39,214.33 C314.82,213.27 315.40,211.05 315.60,210.40" fill="none" stroke="#ff3000" stroke-width="0.85" stroke-linejoin="round"/>
<path d="M316.38,200.80 C316.74,200.06 317.91,197.60 318.54,196.33 C319.16,195.06 319.66,194.27 320.13,193.19 C320.60,192.10 320.98,190.97 321.35,189.82 C321.73,188.67 322.04,187.48 322.36,186.29 C322.69,185.10 322.98,183.88 323.31,182.67 C323.63,181.46 323.96,180.24 324.31,179.03 C324.66,177.82 325.03,176.61 325.42,175.41 C325.81,174.21 326.21,173.02 326.65,171.84 C327.08,170.66 327.53,169.49 328.02,168.34 C328.50,167.18 329.01,166.04 329.55,164.92 C330.09,163.79 330.66,162.69 331.26,161.60 C331.87,160.52 332.50,159.45 333.18,158.41 C333.85,157.38 334.56,156.36 335.31,155.37 C336.06,154.39 336.84,153.43 337.67,152.50 C338.50,151.57 339.36,150.68 340.26,149.81 C341.16,148.94 342.10,148.10 343.06,147.29 C344.02,146.48 345.01,145.70 346.03,144.94 C347.05,144.18 348.10,143.45 349.16,142.75 C350.23,142.04 351.32,141.36 352.42,140.71 C353.53,140.05 354.66,139.42 355.80,138.80 C356.93,138.19 358.09,137.60 359.25,137.04 C360.42,136.47 361.60,135.92 362.78,135.39 C363.96,134.87 365.15,134.36 366.34,133.87 C367.54,133.38 368.73,132.91 369.93,132.45 C371.12,132.00 371.71,131.68 373.51,131.14 C375.31,130.60 380.55,129.17 380.70,129.20 C380.85,129.23 376.01,130.80 374.42,131.31 C372.82,131.81 372.23,131.91 371.13,132.22 C370.04,132.53 368.95,132.86 367.85,133.18 C366.76,133.51 365.66,133.84 364.57,134.17 C363.47,134.51 362.38,134.84 361.29,135.19 C360.20,135.53 359.11,135.88 358.02,136.24 C356.94,136.60 355.86,136.97 354.79,137.36 C353.71,137.74 352.64,138.14 351.58,138.55 C350.52,138.97 349.47,139.39 348.43,139.84 C347.39,140.29 346.35,140.76 345.33,141.25 C344.31,141.73 343.29,142.24 342.30,142.78 C341.30,143.32 340.31,143.88 339.34,144.46 C338.37,145.05 337.42,145.65 336.49,146.29 C335.56,146.93 334.65,147.59 333.76,148.27 C332.88,148.96 332.02,149.67 331.19,150.41 C330.36,151.15 329.55,151.91 328.78,152.70 C328.01,153.49 327.28,154.31 326.58,155.16 C325.88,156.00 325.21,156.88 324.59,157.78 C323.97,158.68 323.39,159.61 322.83,160.56 C322.28,161.52 321.77,162.50 321.29,163.51 C320.80,164.51 320.35,165.54 319.92,166.58 C319.50,167.63 319.10,168.70 318.72,169.78 C318.35,170.86 318.00,171.96 317.66,173.06 C317.33,174.17 317.02,175.29 316.72,176.42 C316.42,177.55 316.14,178.69 315.87,179.83 C315.59,180.97 315.34,182.12 315.08,183.26 C314.83,184.41 314.59,185.57 314.34,186.72 C314.09,187.87 313.86,189.02 313.61,190.17 C313.36,191.32 313.12,192.47 312.86,193.61 C312.61,194.76 312.35,195.90 312.08,197.03 C311.80,198.16 311.52,199.28 311.22,200.39 C310.92,201.50 310.60,202.61 310.26,203.70 C309.92,204.79 309.56,205.87 309.18,206.93 C308.79,207.99 308.38,209.04 307.94,210.07 C307.49,211.10 307.02,212.11 306.51,213.11 C306.00,214.10 305.46,215.07 304.88,216.02 C304.29,216.96 303.67,217.89 303.00,218.79 C302.32,219.68 301.61,220.55 300.85,221.39 C300.09,222.24 299.29,223.05 298.46,223.84 C297.63,224.62 296.76,225.38 295.87,226.12 C294.97,226.86 294.05,227.57 293.10,228.27 C292.16,228.97 291.19,229.64 290.21,230.30 C289.23,230.96 288.23,231.59 287.23,232.22 C286.23,232.84 285.21,233.45 284.19,234.05 C283.17,234.65 282.14,235.23 281.11,235.80 C280.07,236.37 279.03,236.93 277.99,237.48 C276.94,238.03 275.89,238.56 274.84,239.09 C273.79,239.62 272.73,240.14 271.68,240.65 C270.62,241.16 269.56,241.66 268.51,242.15 C267.45,242.65 266.39,243.13 265.33,243.61 C264.28,244.09 263.99,244.24 262.17,245.04 C260.35,245.83 254.70,247.94 254.40,248.40 C254.10,248.86 258.93,248.03 260.40,247.82 C261.86,247.62 262.27,247.42 263.21,247.20 C264.15,246.98 265.08,246.75 266.01,246.51 C266.94,246.27 267.87,246.02 268.80,245.76 C269.73,245.50 270.65,245.23 271.57,244.95 C272.49,244.66 273.41,244.37 274.32,244.07 C275.23,243.76 276.14,243.45 277.05,243.12 C277.95,242.79 278.85,242.45 279.74,242.10 C280.63,241.75 281.52,241.38 282.41,241.01 C283.29,240.63 284.16,240.24 285.03,239.84 C285.90,239.44 286.77,239.03 287.62,238.60 C288.48,238.18 289.33,237.74 290.17,237.29 C291.01,236.84 291.85,236.37 292.67,235.89 C293.50,235.41 294.31,234.92 295.12,234.42 C295.93,233.91 296.73,233.39 297.52,232.86 C298.31,232.32 299.09,231.78 299.86,231.21 C300.63,230.65 301.39,230.08 302.14,229.49 C302.88,228.89 303.62,228.29 304.33,227.67 C305.05,227.05 305.75,226.41 306.43,225.76 C307.12,225.10 307.78,224.43 308.42,223.74 C309.07,223.06 309.69,222.35 310.29,221.63 C310.89,220.91 311.46,220.17 312.01,219.41 C312.56,218.65 313.08,217.88 313.57,217.08 C314.07,216.28 314.53,215.57 314.97,214.63 C315.40,213.68 315.99,211.94 316.19,211.40" fill="none" stroke="#00ee00" stroke-width="0.95" stroke-linejoin="round"/>
<path d="M317.11,199.80 C317.47,199.30 318.66,197.84 319.30,196.80 C319.94,195.76 320.47,194.66 320.95,193.54 C321.44,192.43 321.83,191.27 322.21,190.10 C322.59,188.93 322.91,187.73 323.23,186.53 C323.56,185.33 323.85,184.11 324.17,182.90 C324.50,181.70 324.82,180.48 325.17,179.28 C325.52,178.08 325.89,176.88 326.27,175.69 C326.66,174.50 327.06,173.32 327.49,172.15 C327.92,170.98 328.37,169.82 328.85,168.68 C329.33,167.54 329.83,166.41 330.36,165.31 C330.90,164.20 331.46,163.11 332.05,162.04 C332.65,160.97 333.27,159.92 333.93,158.90 C334.59,157.88 335.29,156.88 336.02,155.92 C336.76,154.95 337.53,154.01 338.34,153.10 C339.15,152.19 340.01,151.31 340.89,150.45 C341.77,149.60 342.69,148.78 343.64,147.98 C344.58,147.18 345.57,146.41 346.57,145.66 C347.57,144.92 348.61,144.20 349.66,143.50 C350.71,142.80 351.79,142.13 352.88,141.48 C353.98,140.83 355.09,140.20 356.22,139.60 C357.35,138.99 358.50,138.41 359.65,137.85 C360.80,137.28 361.97,136.74 363.15,136.22 C364.32,135.69 365.50,135.19 366.69,134.70 C367.87,134.21 369.06,133.75 370.25,133.29 C371.44,132.84 372.63,132.41 373.81,131.99 C375.00,131.56 376.18,131.16 377.35,130.77 C378.52,130.38 379.69,130.00 380.84,129.64 C382.00,129.27 383.14,128.92 384.27,128.58 C385.39,128.24 387.04,127.76 387.60,127.60 C387.03,127.69 385.32,127.94 384.20,128.14 C383.07,128.35 381.95,128.57 380.83,128.81 C379.71,129.05 378.60,129.31 377.50,129.58 C376.39,129.85 375.29,130.14 374.18,130.44 C373.08,130.73 371.98,131.04 370.89,131.36 C369.79,131.67 368.69,131.99 367.60,132.32 C366.50,132.65 365.40,132.98 364.31,133.31 C363.21,133.65 362.11,133.98 361.02,134.33 C359.92,134.67 358.83,135.02 357.74,135.39 C356.65,135.75 355.56,136.12 354.48,136.51 C353.40,136.90 352.32,137.30 351.26,137.71 C350.19,138.13 349.13,138.56 348.07,139.02 C347.02,139.47 345.97,139.94 344.94,140.43 C343.91,140.93 342.88,141.44 341.87,141.99 C340.86,142.53 339.86,143.10 338.88,143.69 C337.89,144.28 336.93,144.90 335.98,145.55 C335.04,146.19 334.11,146.86 333.21,147.56 C332.31,148.26 331.43,148.98 330.59,149.74 C329.74,150.49 328.92,151.27 328.14,152.08 C327.35,152.88 326.60,153.72 325.88,154.58 C325.17,155.45 324.49,156.34 323.85,157.26 C323.21,158.19 322.62,159.14 322.05,160.11 C321.49,161.09 320.97,162.09 320.48,163.11 C319.98,164.14 319.52,165.18 319.09,166.24 C318.66,167.31 318.25,168.39 317.87,169.48 C317.49,170.57 317.14,171.69 316.80,172.80 C316.46,173.92 316.15,175.05 315.85,176.19 C315.55,177.33 315.27,178.47 314.99,179.62 C314.72,180.76 314.46,181.92 314.20,183.07 C313.95,184.22 313.71,185.38 313.46,186.53 C313.21,187.68 312.97,188.84 312.73,189.99 C312.48,191.13 312.24,192.28 311.99,193.42 C311.73,194.56 311.47,195.69 311.20,196.81 C310.93,197.94 310.65,199.05 310.35,200.16 C310.05,201.26 309.74,202.35 309.40,203.43 C309.07,204.51 308.71,205.57 308.33,206.62 C307.95,207.67 307.55,208.70 307.11,209.71 C306.68,210.73 306.21,211.72 305.71,212.69 C305.21,213.66 304.68,214.62 304.11,215.54 C303.54,216.47 302.93,217.37 302.27,218.25 C301.62,219.12 300.92,219.97 300.18,220.79 C299.44,221.62 298.66,222.41 297.84,223.18 C297.03,223.95 296.17,224.70 295.29,225.43 C294.41,226.16 293.50,226.86 292.57,227.55 C291.64,228.23 290.68,228.90 289.71,229.55 C288.74,230.20 287.75,230.83 286.75,231.45 C285.76,232.07 284.75,232.68 283.74,233.27 C282.72,233.87 281.70,234.44 280.67,235.01 C279.64,235.58 278.61,236.14 277.57,236.68 C276.53,237.23 275.48,237.76 274.44,238.29 C273.39,238.81 272.34,239.33 271.29,239.84 C270.23,240.35 269.18,240.84 268.12,241.34 C267.07,241.83 266.01,242.31 264.96,242.79 C263.91,243.27 262.85,243.74 261.80,244.21 C260.75,244.68 259.70,245.14 258.66,245.60 C257.61,246.06 256.57,246.52 255.54,246.97 C254.50,247.42 253.47,247.87 252.45,248.32 C251.42,248.77 250.41,249.21 249.40,249.66 C248.39,250.11 246.90,250.78 246.40,251.00 C246.87,250.94 248.28,250.77 249.23,250.65 C250.17,250.52 251.12,250.39 252.06,250.25 C253.01,250.10 253.96,249.95 254.90,249.79 C255.85,249.63 256.80,249.46 257.74,249.28 C258.69,249.10 259.64,248.91 260.58,248.71 C261.53,248.51 262.47,248.30 263.41,248.07 C264.36,247.85 265.30,247.62 266.24,247.38 C267.17,247.14 268.11,246.89 269.04,246.63 C269.98,246.37 270.91,246.09 271.84,245.81 C272.76,245.52 273.69,245.23 274.61,244.92 C275.53,244.61 276.44,244.29 277.35,243.96 C278.26,243.63 279.17,243.29 280.07,242.94 C280.97,242.58 281.87,242.22 282.76,241.84 C283.65,241.46 284.53,241.07 285.41,240.66 C286.29,240.26 287.16,239.84 288.02,239.41 C288.89,238.98 289.75,238.54 290.60,238.08 C291.45,237.62 292.29,237.15 293.12,236.67 C293.96,236.19 294.78,235.69 295.60,235.18 C296.42,234.67 297.22,234.14 298.02,233.60 C298.82,233.06 299.61,232.51 300.39,231.94 C301.17,231.37 301.94,230.79 302.70,230.19 C303.45,229.59 304.20,228.98 304.92,228.35 C305.65,227.72 306.36,227.07 307.06,226.40 C307.75,225.74 308.43,225.06 309.08,224.36 C309.74,223.66 310.37,222.94 310.98,222.21 C311.59,221.47 312.18,220.71 312.74,219.94 C313.30,219.16 313.84,218.37 314.34,217.55 C314.84,216.74 315.32,215.90 315.77,215.04 C316.21,214.18 316.80,212.84 317.01,212.40" fill="none" stroke="#000" stroke-width="1.5" stroke-linejoin="round"/>
<text x="354.4" y="127.2" font-size="8" font-family="Liberation Sans, sans-serif" font-weight="bold" stroke="#000" stroke-width="0.3">V</text>
<line x1="349.6" y1="129.4" x2="361" y2="129.4" stroke="#000" stroke-width="1.1"/>
<path d="M365.0,129.4 L360.0,127.4 L360.0,131.4 Z" fill="#000"/>
<line x1="341.3" y1="210.5" x2="365.0" y2="210.5" stroke="#ff3030" stroke-width="1.6"/>
<text x="370.8" y="214.2" font-size="10.2" font-family="Liberation Sans, sans-serif" font-weight="bold" stroke="#000" stroke-width="0.3">80 V</text>
<line x1="341.3" y1="223.7" x2="365.0" y2="223.7" stroke="#00ee00" stroke-width="1.6"/>
<text x="370.8" y="227.4" font-size="10.2" font-family="Liberation Sans, sans-serif" font-weight="bold" stroke="#000" stroke-width="0.3">90 V</text>
<line x1="341.3" y1="236.8" x2="365.0" y2="236.8" stroke="#222" stroke-width="1.6"/>
<text x="368.0" y="240.5" font-size="10.2" font-family="Liberation Sans, sans-serif" font-weight="bold" stroke="#000" stroke-width="0.3">100 V</text>
<text x="371.7" y="347.6" font-size="23.2" font-family="Liberation Sans, sans-serif" font-weight="bold" stroke="#000" stroke-width="0.3">(b)</text>
<text x="346.2" y="383.6" font-size="16" font-family="Liberation Sans, sans-serif" font-weight="bold" stroke="#000" stroke-width="0.3">2 kHZ</text>
<text x="345.6" y="402.2" font-size="16" font-family="Liberation Sans, sans-serif" font-weight="bold" stroke="#000" stroke-width="0.3">100 V</text>
<text x="189.4" y="380.8" font-size="16.6" text-anchor="middle" font-family="Liberation Sans, sans-serif" font-weight="bold" stroke="#000" stroke-width="0.3">I</text>
<text x="193.2" y="414.1" font-size="16.6" text-anchor="middle" font-family="Liberation Sans, sans-serif" font-weight="bold" stroke="#000" stroke-width="0.3">II</text>
<text transform="translate(93.2,451.0) rotate(-43.5)" font-size="10.9" font-family="Liberation Sans, sans-serif" font-weight="bold" stroke="#000" stroke-width="0.3">Discharge</text>
<line x1="142.6" y1="408.8" x2="96" y2="454.6" stroke="#000" stroke-width="1.4"/>
<path d="M92.3,458.3 L98.4,455.4 L95.4,452.3 Z" fill="#000"/>
<text transform="translate(137.6,500.8) rotate(-43.5)" font-size="11.1" font-family="Liberation Sans, sans-serif" font-weight="bold" stroke="#000" stroke-width="0.3">Charge</text>
<line x1="129.8" y1="515.4" x2="176.9" y2="469.2" stroke="#000" stroke-width="1.4"/>
<path d="M180.6,465.5 L174.5,468.4 L177.5,471.5 Z" fill="#000"/>
<rect x="238.80" y="441.90" width="159.70" height="128.30" fill="#fff" stroke="#000" stroke-width="1.4"/>
<line x1="238.80" y1="557.90" x2="241.40" y2="557.90" stroke="#000" stroke-width="0.9"/>
<text x="236.0" y="561.30" font-size="9.6" text-anchor="end" font-family="Liberation Sans, sans-serif" font-weight="bold" stroke="#000" stroke-width="0.3">5</text>
<line x1="238.80" y1="525.30" x2="241.40" y2="525.30" stroke="#000" stroke-width="0.9"/>
<text x="236.0" y="528.70" font-size="9.6" text-anchor="end" font-family="Liberation Sans, sans-serif" font-weight="bold" stroke="#000" stroke-width="0.3">10</text>
<line x1="238.80" y1="492.70" x2="241.40" y2="492.70" stroke="#000" stroke-width="0.9"/>
<text x="236.0" y="496.10" font-size="9.6" text-anchor="end" font-family="Liberation Sans, sans-serif" font-weight="bold" stroke="#000" stroke-width="0.3">15</text>
<line x1="238.80" y1="460.10" x2="241.40" y2="460.10" stroke="#000" stroke-width="0.9"/>
<text x="236.0" y="463.50" font-size="9.6" text-anchor="end" font-family="Liberation Sans, sans-serif" font-weight="bold" stroke="#000" stroke-width="0.3">20</text>
<line x1="238.80" y1="541.60" x2="240.30" y2="541.60" stroke="#000" stroke-width="0.9"/>
<line x1="238.80" y1="509.00" x2="240.30" y2="509.00" stroke="#000" stroke-width="0.9"/>
<line x1="238.80" y1="476.40" x2="240.30" y2="476.40" stroke="#000" stroke-width="0.9"/>
<line x1="238.80" y1="443.80" x2="240.30" y2="443.80" stroke="#000" stroke-width="0.9"/>
<line x1="255.70" y1="570.20" x2="255.70" y2="567.60" stroke="#000" stroke-width="0.9"/>
<text x="255.70" y="580.8" font-size="9.6" text-anchor="middle" font-family="Liberation Sans, sans-serif" font-weight="bold" stroke="#000" stroke-width="0.3">0.8</text>
<line x1="269.60" y1="570.20" x2="269.60" y2="568.70" stroke="#000" stroke-width="0.9"/>
<line x1="283.50" y1="570.20" x2="283.50" y2="567.60" stroke="#000" stroke-width="0.9"/>
<text x="283.50" y="580.8" font-size="9.6" text-anchor="middle" font-family="Liberation Sans, sans-serif" font-weight="bold" stroke="#000" stroke-width="0.3">1.0</text>
<line x1="297.40" y1="570.20" x2="297.40" y2="568.70" stroke="#000" stroke-width="0.9"/>
<line x1="311.30" y1="570.20" x2="311.30" y2="567.60" stroke="#000" stroke-width="0.9"/>
<text x="311.30" y="580.8" font-size="9.6" text-anchor="middle" font-family="Liberation Sans, sans-serif" font-weight="bold" stroke="#000" stroke-width="0.3">1.2</text>
<line x1="325.20" y1="570.20" x2="325.20" y2="568.70" stroke="#000" stroke-width="0.9"/>
<line x1="339.10" y1="570.20" x2="339.10" y2="567.60" stroke="#000" stroke-width="0.9"/>
<text x="339.10" y="580.8" font-size="9.6" text-anchor="middle" font-family="Liberation Sans, sans-serif" font-weight="bold" stroke="#000" stroke-width="0.3">1.4</text>
<line x1="353.00" y1="570.20" x2="353.00" y2="568.70" stroke="#000" stroke-width="0.9"/>
<line x1="366.90" y1="570.20" x2="366.90" y2="567.60" stroke="#000" stroke-width="0.9"/>
<text x="366.90" y="580.8" font-size="9.6" text-anchor="middle" font-family="Liberation Sans, sans-serif" font-weight="bold" stroke="#000" stroke-width="0.3">1.6</text>
<line x1="380.80" y1="570.20" x2="380.80" y2="568.70" stroke="#000" stroke-width="0.9"/>
<line x1="394.70" y1="570.20" x2="394.70" y2="567.60" stroke="#000" stroke-width="0.9"/>
<text x="394.70" y="580.8" font-size="9.6" text-anchor="middle" font-family="Liberation Sans, sans-serif" font-weight="bold" stroke="#000" stroke-width="0.3">1.8</text>
<line x1="241.80" y1="570.20" x2="241.80" y2="568.70" stroke="#000" stroke-width="0.9"/>
<text x="325" y="593.9" font-size="10.6" text-anchor="middle" font-family="Liberation Sans, sans-serif" font-weight="bold" stroke="#000" stroke-width="0.3">Electric Field (MV/cm)</text>
<text transform="translate(220.6,505.2) rotate(-90)" font-size="10.7" text-anchor="middle" font-family="Liberation Sans, sans-serif" font-weight="bold" stroke="#000" stroke-width="0.3">Energy Density (J/cm<tspan font-size="7" dy="-4.6">3</tspan><tspan dy="4.6">)</tspan></text>
<polyline points="260.1,531.3 283.5,518.3 305.9,504.9 329.5,486.7 352.5,470.4 375.8,455.7" fill="none" stroke="#000" stroke-width="2.3"/>
<rect x="257.30" y="528.50" width="5.6" height="5.6" fill="#000"/>
<rect x="280.70" y="515.50" width="5.6" height="5.6" fill="#000"/>
<rect x="303.10" y="502.10" width="5.6" height="5.6" fill="#000"/>
<rect x="326.70" y="483.90" width="5.6" height="5.6" fill="#000"/>
<rect x="349.70" y="467.60" width="5.6" height="5.6" fill="#000"/>
<rect x="373.00" y="452.90" width="5.6" height="5.6" fill="#000"/>
<polyline points="260.1,550.7 283.5,542.5 305.9,534.4 329.5,527.0 352.5,519.2 375.8,512.6" fill="none" stroke="#ff0000" stroke-width="2.3"/>
<circle cx="260.10" cy="550.70" r="3.1" fill="#ff0000"/>
<circle cx="283.50" cy="542.50" r="3.1" fill="#ff0000"/>
<circle cx="305.90" cy="534.40" r="3.1" fill="#ff0000"/>
<circle cx="329.50" cy="527.00" r="3.1" fill="#ff0000"/>
<circle cx="352.50" cy="519.20" r="3.1" fill="#ff0000"/>
<circle cx="375.80" cy="512.60" r="3.1" fill="#ff0000"/>
<line x1="247.3" y1="452.4" x2="269" y2="452.4" stroke="#000" stroke-width="1.7"/>
<rect x="254.0" y="450.6" width="8.2" height="3.6" fill="#fff"/>
<rect x="256.4" y="450.7" width="3.4" height="3.4" fill="#000"/>
<text x="272.0" y="455.7" font-size="9.6" font-family="Liberation Sans, sans-serif" font-weight="bold" stroke="#000" stroke-width="0.3">Charge</text>
<line x1="247.3" y1="464.5" x2="269" y2="464.5" stroke="#ff0000" stroke-width="1.7"/>
<rect x="254.0" y="462.7" width="8.2" height="3.6" fill="#fff"/>
<circle cx="258.1" cy="464.5" r="2.0" fill="#ff0000"/>
<text x="272.0" y="467.8" font-size="9.6" font-family="Liberation Sans, sans-serif" font-weight="bold" stroke="#000" stroke-width="0.3">Discharge</text>
</svg>
</body></html>
